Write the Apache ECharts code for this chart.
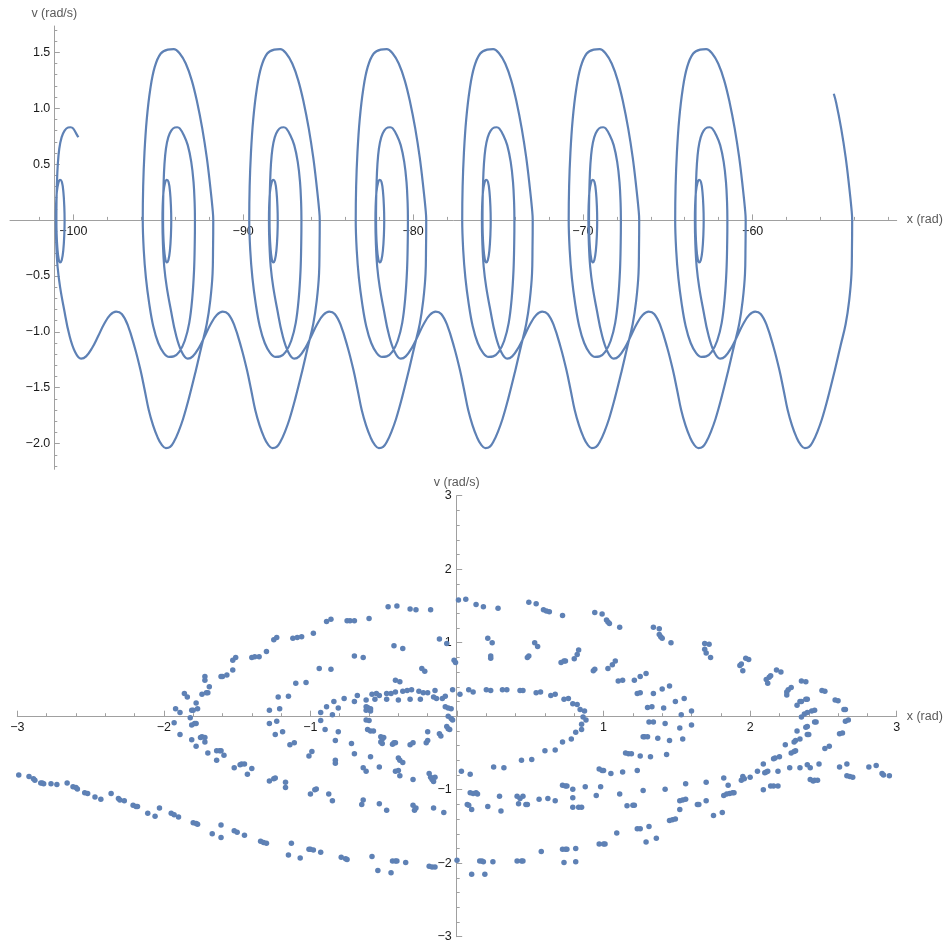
<!DOCTYPE html>
<html><head><meta charset="utf-8">
<script src="https://cdn.jsdelivr.net/npm/echarts@6/dist/echarts.min.js"></script>
<style>html,body{margin:0;padding:0;background:#fff}#c{width:947px;height:949px}</style>
</head><body><div id="c"></div>
<script>
// ---------- top chart: trajectory (x unwrapped) ----------
// centres of the small inner loop of each well (rad)
const cellCentersX = [-56.88, -63.15, -69.42, -75.69, -81.96, -88.23, -94.50, -100.78];
// shape of one well, [dx from centre, v]
const entryPath = [[3.297,-0.82],[2.944,-0.85],[2.591,-0.93],[2.237,-1.04],[1.884,-1.145],[1.531,-1.22],[1.236,-1.24],[0.883,-1.18],[0.530,-1.02],[0.236,-0.80],[0,-0.60],[-0.147,-0.42],[-0.224,-0.22],[-0.253,0]];
const innerLoop = [[-0.241,0.12],[-0.194,0.25],[-0.106,0.33],[0,0.36],[0.106,0.34],[0.194,0.25],[0.247,0.12],[0.265,0],[0.247,-0.13],[0.188,-0.27],[0.094,-0.36],[0,-0.38],[-0.094,-0.34],[-0.165,-0.24],[-0.206,-0.12],[-0.218,0]];
const middleUp = [[-0.212,0.15],[-0.188,0.32],[-0.135,0.50],[-0.047,0.64],[0.088,0.74],[0.265,0.80],[0.471,0.828],[0.618,0.83],[0.765,0.82],[1.001,0.76],[1.236,0.67],[1.442,0.52],[1.578,0.34],[1.643,0.15],[1.660,0]];
const middleDown = [[1.649,-0.2],[1.607,-0.45],[1.501,-0.7],[1.325,-0.92],[1.060,-1.08],[0.736,-1.18],[0.412,-1.22],[0.141,-1.225],[-0.177,-1.19],[-0.500,-1.10],[-0.795,-0.95],[-1.030,-0.75],[-1.225,-0.52],[-1.354,-0.27],[-1.413,0]];
const outerUp = [[-1.389,0.3],[-1.313,0.6],[-1.178,0.9],[-0.971,1.17],[-0.707,1.37],[-0.353,1.49],[0.059,1.525],[0.412,1.53],[0.765,1.49],[1.119,1.40],[1.472,1.25],[1.796,1.05],[2.090,0.82],[2.355,0.56],[2.561,0.3],[2.697,0.1],[2.738,0]];
const outerDown = [[2.726,-0.25],[2.697,-0.48],[2.561,-0.72],[2.355,-0.93],[2.061,-1.12],[1.707,-1.35],[1.295,-1.60],[0.960,-1.78],[0.700,-1.89],[0.450,-1.975],[0.200,-2.03],[-0.050,-2.04],[-0.300,-2.01],[-0.550,-1.94],[-0.800,-1.84],[-1.060,-1.70],[-1.300,-1.52],[-1.550,-1.34],[-1.884,-1.14],[-2.296,-0.94],[-2.649,-0.84]];
const trajStart = [1.655, 1.13];   // first point, relative to the first well
const trajEnd = [1.072, 0.74];     // last point, relative to the last well

const topXMajor = [-100,-90,-80,-70,-60];
const topXMinor = [-102,-98,-96,-94,-92,-88,-86,-84,-82,-78,-76,-74,-72,-68,-66,-64,-62,-58,-56,-54,-52];
const topYMajor = [-2,-1.5,-1,-0.5,0,0.5,1,1.5];
const topYLabels = [-2,-1.5,-1,-0.5,0.5,1,1.5];
const topYMinor = [-2.2,-2.1,-1.9,-1.8,-1.7,-1.6,-1.4,-1.3,-1.2,-1.1,-0.9,-0.8,-0.7,-0.6,-0.4,-0.3,-0.2,-0.1,0.1,0.2,0.3,0.4,0.6,0.7,0.8,0.9,1.1,1.2,1.3,1.4,1.6,1.7];

// ---------- bottom chart: sampled points, x wrapped to [-pi, pi] ----------
const dotsUpperLeft = [[-1.93,-0.09],[-1.92,0.10],[-1.89,0.05],[-1.86,0.31],[-1.84,0.26],[-1.81,0.08],[-1.80,0.08],[-1.77,0.10],[-1.78,0.18],[-1.82,-0.02],
[-1.81,-0.12],[-1.79,-0.10],[-1.78,-0.10],
[-1.74,0.30],[-1.71,0.32],[-1.70,0.32],[-1.69,0.40],[-1.72,0.49],[-1.72,0.54],[-1.61,0.54],[-1.60,0.54],[-1.57,0.56],[-1.53,0.63],[-1.53,0.76],[-1.51,0.80],[-1.40,0.80],[-1.38,0.81],[-1.35,0.81],[-1.30,0.88],[-1.25,1.04],[-1.23,1.07],[-1.12,1.06],[-1.09,1.07],[-1.06,1.08],[-0.98,1.13],[-0.89,1.29],[-0.86,1.32],[-0.75,1.30],[-0.73,1.30],[-0.70,1.30],[-0.60,1.33],[-0.47,1.49],[-0.41,1.50],[-0.32,1.46],[-0.28,1.45],[-0.18,1.45],[0.01,1.58],[0.06,1.59],[0.13,1.52],
[-0.12,1.05],[-0.07,0.99],[-0.43,0.96],[-0.37,0.92],[-0.70,0.82],[-0.64,0.80],[-0.94,0.65],[-0.86,0.64],[-0.24,0.65],[-0.22,0.61],[-0.02,0.76],[-0.01,0.73],[-0.42,0.49],[-0.39,0.47],[-1.10,0.45],[-1.03,0.46],[-1.22,0.26],[-1.15,0.27],[-1.28,0.08],[-1.21,0.10],[-1.28,-0.10],[-1.23,-0.07],
[-0.89,0.13],[-0.84,0.20],[-0.81,0.11],[-0.77,0.24],[-0.70,0.20],[-0.68,0.28],[-0.62,0.22],[-0.58,0.30],[-0.55,0.31],[-0.53,0.28],[-0.56,0.23],[-0.48,0.23],[-0.48,0.31],[-0.45,0.31],[-0.42,0.33],[-0.40,0.22],[-0.37,0.34],[-0.34,0.35],[-0.31,0.36],[-0.32,0.23],[-0.26,0.34],[-0.25,0.23],[-0.23,0.32],[-0.20,0.32],[-0.15,0.35],[-0.16,0.26],[-0.14,0.24],[-0.10,0.24],[-0.08,0.27],[-0.03,0.36],[0.02,0.30],[0.08,0.36],[0.11,0.33],
[-0.62,0.13],[-0.61,0.12],[-0.59,0.10],[-0.62,0.08],[-0.59,0.07],[-0.62,-0.05],[-0.60,-0.06],[-0.61,-0.18],[-0.59,-0.20],[-0.57,-0.20],[-0.93,0.05],[-0.85,0.02],[-0.93,-0.06],[-0.90,-0.18],[-0.81,-0.21],[-0.08,0.13],[-0.06,0.11],[-0.04,0.10],[-0.06,0.0],[-0.04,-0.03],[-0.03,-0.05],[-0.07,-0.14],[-0.06,-0.17],[-0.05,-0.18]];
const dotsUpperRight = [[0.18,1.49],[0.28,1.47],[0.49,1.55],[0.54,1.53],[0.59,1.45],[0.61,1.43],[0.63,1.42],[0.72,1.37],[0.94,1.41],[0.99,1.39],[1.02,1.31],[1.03,1.28],[1.04,1.26],[1.11,1.21],[1.34,1.21],[1.38,1.19],[1.38,1.11],[1.39,1.08],[1.40,1.06],[1.46,1.00],[1.69,0.99],[1.72,0.98],[1.69,0.91],[1.70,0.86],[1.73,0.80],[1.93,0.69],[1.94,0.71],[1.97,0.79],[1.99,0.77],[1.95,0.62],[2.11,0.50],[2.13,0.53],[2.14,0.55],[2.12,0.45],[2.18,0.63],[2.21,0.60],[2.25,0.33],[2.26,0.36],[2.28,0.39],[2.25,0.29],[2.35,0.48],[2.38,0.47],[2.32,0.15],[2.34,0.20],[2.35,0.20],[2.38,0.23],[2.39,0.23],[2.49,0.35],[2.51,0.34],[2.58,0.22],[2.60,0.21],[2.35,-0.01],[2.37,0.03],[2.39,0.05],[2.42,0.07],[2.44,0.08],[2.64,0.09],[2.65,0.09],[2.65,-0.07],[2.67,-0.05],[2.44,-0.08],[2.45,-0.08],[2.38,-0.15],[2.39,-0.14],[2.32,-0.20],[2.61,-0.24],[2.63,-0.23],
[0.21,1.06],[0.24,1.00],[0.23,0.82],[0.23,0.79],[0.48,0.80],[0.49,0.82],[0.53,1.00],[0.55,0.95],[0.71,0.73],[0.73,0.75],[0.74,0.75],[0.80,0.78],[0.82,0.84],[0.83,0.90],[0.93,0.62],[0.94,0.64],[1.03,0.65],[1.06,0.70],[1.08,0.75],[1.10,0.48],[1.13,0.49],[1.21,0.49],[1.25,0.54],[1.29,0.58],[1.23,0.31],[1.25,0.32],[1.34,0.31],[1.40,0.37],[1.45,0.41],[1.30,0.12],[1.33,0.13],[1.41,0.11],[1.49,0.20],[1.55,0.24],[1.53,0.02],[1.60,0.07],[1.31,-0.08],[1.34,-0.08],[1.42,-0.10],[1.52,-0.16],[1.60,-0.12],
[0.20,0.36],[0.23,0.35],[0.31,0.36],[0.34,0.36],[0.43,0.35],[0.45,0.35],[0.54,0.32],[0.57,0.33],[0.64,0.28],[0.67,0.30],[0.73,0.23],[0.76,0.24],[0.79,0.17],[0.82,0.16],[0.84,0.09],[0.87,0.07],[0.86,-0.01],[0.88,-0.05],[0.85,-0.11],[0.85,-0.18]];
const dotsLowerLeft = [[-1.89,-0.25],[-1.81,-0.32],[-1.78,-0.41],[-1.75,-0.29],[-1.74,-0.28],[-1.72,-0.29],[-1.72,-0.35],[-1.70,-0.50],[-1.64,-0.47],[-1.62,-0.47],[-1.61,-0.47],[-1.64,-0.60],[-1.59,-0.53],[-1.52,-0.70],[-1.48,-0.66],[-1.47,-0.65],[-1.45,-0.65],[-1.43,-0.79],[-1.40,-0.71],[-1.28,-0.88],[-1.25,-0.85],[-1.24,-0.84],[-1.17,-0.97],[-1.17,-0.90],[-1.24,-0.25],[-1.19,-0.21],[-1.14,-0.39],[-1.11,-0.36],[-1.01,-0.54],[-0.99,-0.48],[-1.00,-1.06],[-0.97,-1.00],[-0.96,-0.99],[-0.875,-1.06],[-0.85,-1.15],[-0.83,-0.33],[-0.83,-0.64],[-0.83,-0.60],[-0.72,-0.37],[-0.70,-0.51],[-0.65,-1.20],[-0.64,-1.14],[-0.64,-0.70],[-0.62,-0.75],[-0.59,-0.55],[-0.53,-1.19],[-0.53,-0.69],[-0.52,-0.28],[-0.51,-0.31],[-0.50,-0.29],[-0.52,-0.35],[-0.51,-0.37],[-0.48,-1.28],[-0.44,-0.38],[-0.43,-0.36],[-0.42,-0.36],[-0.42,-0.75],[-0.40,-0.74],[-0.39,-0.81],[-0.40,-0.57],[-0.39,-0.60],[-0.37,-0.63],[-0.32,-0.39],[-0.30,-0.36],[-0.30,-0.86],[-0.30,-1.21],[-0.28,-1.25],[-0.29,-1.28],[-0.21,-0.36],[-0.20,-0.33],[-0.20,-0.21],[-0.19,-0.78],[-0.18,-0.83],[-0.17,-0.86],[-0.16,-0.89],[-0.15,-0.83],[-0.16,-1.25],[-0.12,-0.24],[-0.11,-0.27],[-0.09,-1.31],[0.03,-0.75],[0.09,-0.79],
[-2.99,-0.80],[-2.92,-0.82],[-2.89,-0.85],[-2.88,-0.87],[-2.84,-0.91],[-2.83,-0.91],[-2.82,-0.92],[-2.77,-0.92],[-2.73,-0.93],[-2.66,-0.91],[-2.62,-0.96],[-2.60,-0.97],[-2.59,-0.99],[-2.54,-1.04],[-2.52,-1.05],[-2.47,-1.10],[-2.43,-1.13],[-2.36,-1.05],[-2.31,-1.12],[-2.30,-1.14],[-2.27,-1.15],[-2.21,-1.21],[-2.19,-1.23],[-2.18,-1.23],[-2.11,-1.32],[-2.06,-1.36],[-2.03,-1.25],[-1.95,-1.32],[-1.93,-1.34],[-1.90,-1.37],[-1.80,-1.45],[-1.78,-1.46],[-1.77,-1.47],[-1.67,-1.60],[-1.61,-1.48],[-1.61,-1.65],[-1.52,-1.56],[-1.50,-1.58],[-1.45,-1.62],[-1.34,-1.70],[-1.32,-1.72],[-1.30,-1.73],[-1.15,-1.89],[-1.13,-1.73],[-1.07,-1.93],[-1.01,-1.81],[-1.00,-1.81],[-0.98,-1.82],[-0.93,-1.85],[-0.79,-1.92],[-0.76,-1.94],[-0.75,-1.95],[-0.58,-1.91],[-0.54,-2.10],[-0.45,-2.13],[-0.44,-1.97],[-0.42,-1.97],[-0.41,-1.97],[-0.35,-1.99],[-0.19,-2.04],[-0.17,-2.05],[-0.15,-2.05],[0.0,-1.96],[0.10,-2.15]];
const dotsLowerRight = [[0.19,-2.15],[0.155,-1.97],[0.17,-1.97],[0.18,-1.98],[0.245,-1.98],[0.41,-1.97],[0.44,-1.97],[0.45,-1.97],[0.575,-1.84],[0.72,-1.81],[0.74,-1.81],[0.75,-1.81],[0.81,-1.80],[0.73,-1.99],[0.81,-1.98],[0.97,-1.74],[1.00,-1.74],[1.01,-1.74],[1.09,-1.59],[1.23,-1.53],[1.25,-1.53],[1.29,-1.71],[1.31,-1.50],[1.36,-1.66],[1.45,-1.42],[1.47,-1.41],[1.49,-1.40],[1.52,-1.27],[1.52,-1.15],[1.54,-1.14],[1.56,-1.13],[1.56,-0.92],[1.64,-1.20],[1.65,-1.20],[1.70,-1.15],[1.70,-0.90],[1.75,-1.35],[1.81,-1.31],[1.82,-0.84],[1.85,-0.94],[1.82,-1.08],[1.84,-1.06],[1.86,-1.05],[1.88,-1.04],[1.89,-1.04],[1.94,-0.87],[1.95,-0.82],[1.96,-0.85],[2.00,-0.83],[2.05,-0.75],[2.09,-0.65],[2.09,-1.00],[2.10,-0.77],[2.11,-0.76],[2.12,-0.75],[2.14,-0.95],[2.16,-0.95],[2.19,-0.95],[2.19,-0.75],[2.16,-0.58],[2.17,-0.57],[2.20,-0.55],[2.24,-0.39],[2.27,-0.70],[2.28,-0.50],[2.30,-0.48],[2.31,-0.47],[2.30,-0.35],[2.31,-0.33],[2.34,-0.31],[2.34,-0.70],[2.39,-0.66],[2.41,-0.70],[2.39,-0.25],[2.40,-0.25],[2.41,-0.86],[2.43,-0.88],[2.44,-0.87],[2.46,-0.87],[2.47,-0.65],[2.51,-0.44],[2.54,-0.41],[2.61,-0.69],[2.66,-0.65],[2.66,-0.81],[2.68,-0.82],[2.70,-0.83],[2.81,-0.69],[2.86,-0.67],[2.90,-0.78],[2.91,-0.80],[2.95,-0.81],
[0.09,-1.04],[0.11,-1.05],[0.13,-1.04],[0.14,-1.06],[0.07,-1.20],[0.08,-1.21],[0.10,-1.27],[0.21,-1.23],[0.25,-0.69],[0.32,-0.70],[0.29,-1.09],[0.30,-1.29],[0.41,-1.09],[0.43,-1.12],[0.45,-1.09],[0.42,-1.19],[0.47,-1.20],[0.48,-1.20],[0.44,-0.60],[0.51,-0.59],[0.56,-1.13],[0.62,-1.12],[0.67,-1.15],[0.60,-0.47],[0.67,-0.46],[0.72,-0.35],[0.78,-0.31],[0.81,-0.22],[0.72,-0.94],[0.74,-0.95],[0.75,-0.95],[0.79,-0.995],[0.79,-1.11],[0.79,-1.24],[0.83,-1.24],[0.85,-1.24],[0.875,-0.96],[0.95,-1.08],[0.98,-0.96],[0.97,-0.72],[0.99,-0.74],[1.00,-0.74],[1.05,-0.78],[1.13,-0.76],[1.11,-1.06],[1.16,-1.22],[1.20,-1.21],[1.21,-1.21],[1.23,-0.74],[1.27,-1.01],[1.15,-0.50],[1.17,-0.51],[1.19,-0.51],[1.25,-0.54],[1.32,-0.55],[1.43,-0.52],[1.42,-0.995],[1.27,-0.28],[1.28,-0.28],[1.30,-0.28],[1.37,-0.30],[1.45,-0.33],[1.54,-0.31]];

// ---------- build the trajectory table from the traced pieces ----------
function place(c, pts) { return pts.map(p => [c + p[0], p[1]]); }
const traj = [];
{
  const n = cellCentersX.length;
  const c0 = cellCentersX[0];
  traj.push(...place(c0, [trajStart]), ...place(c0, outerUp.slice(11)), ...place(c0, outerDown));
  for (let i = 1; i < n - 1; i++) {
    const c = cellCentersX[i];
    traj.push(...place(c, entryPath), ...place(c, innerLoop), ...place(c, middleUp),
              ...place(c, middleDown), ...place(c, outerUp), ...place(c, outerDown));
  }
  const cl = cellCentersX[n - 1];
  traj.push(...place(cl, entryPath), ...place(cl, innerLoop), ...place(cl, middleUp.slice(0, 10)), ...place(cl, [trajEnd]));
}

const FONT = '"Liberation Sans", Arial, Helvetica, sans-serif';
const AX = '#a0a0a0';
const LBL = '#1a1a1a';
const NAMEC = '#5a5a5a';
const BLUE = '#5E81B5';
const minus = v => String(v).replace('-', '\u2212');
const lblStyle = {color: LBL, fontSize: 12.5, fontFamily: FONT};
const nameStyle = {color: NAMEC, fontSize: 12.5, fontFamily: FONT};

// pixel layout of the two panels
const G1 = {left: 10, right: 50.3, top: 26, bottom: 479.7};
const G2 = {left: 17.3, right: 50.3, top: 495.7, bottom: 12.3};
const topXAxisShift = -249.4;   // x axis drawn on v = 0
const topYAxisShift = -44.3;    // y axis drawn at x = -101.14
const botXAxisShift = -220.5;   // x axis on v = 0
const botYAxisShift = -439.4;   // y axis on x = 0

const chart = echarts.init(document.getElementById('c'), null, {renderer: 'canvas'});
chart.setOption({
  animation: false,
  backgroundColor: '#fff',
  grid: [G1, G2],
  xAxis: [
    {gridIndex: 0, type: 'value', min: -103.73, max: -51.52, position: 'bottom', offset: topXAxisShift,
     axisLine: {onZero: false, lineStyle: {color: AX, width: 1}},
     axisTick: {inside: true, length: 5.5, customValues: topXMajor, lineStyle: {color: AX}},
     axisLabel: Object.assign({customValues: topXMajor, formatter: v => minus(v), margin: 5}, lblStyle),
     splitLine: {show: false},
     name: 'x (rad)', nameLocation: 'end', nameGap: 10, nameTextStyle: nameStyle},
    {gridIndex: 0, type: 'value', min: -103.73, max: -51.52, position: 'bottom', offset: topXAxisShift,
     axisLine: {show: false, onZero: false},
     axisTick: {inside: true, length: 3, customValues: topXMinor, lineStyle: {color: AX}},
     axisLabel: {show: false}, splitLine: {show: false}},
    {gridIndex: 1, type: 'value', min: -3, max: 3, interval: 1, position: 'bottom', offset: botXAxisShift,
     axisLine: {onZero: false, lineStyle: {color: AX, width: 1}},
     axisTick: {inside: true, length: 5.5, lineStyle: {color: AX}},
     minorTick: {show: true, splitNumber: 5, length: 3, lineStyle: {color: AX}},
     axisLabel: Object.assign({formatter: v => v === 0 ? '' : minus(v), margin: 5, showMinLabel: true, showMaxLabel: true}, lblStyle),
     splitLine: {show: false}, minorSplitLine: {show: false},
     name: 'x (rad)', nameLocation: 'end', nameGap: 10, nameTextStyle: nameStyle}
  ],
  yAxis: [
    {gridIndex: 0, type: 'value', min: -2.23, max: 1.736, position: 'left', offset: topYAxisShift,
     axisLine: {onZero: false, lineStyle: {color: AX, width: 1}},
     axisTick: {inside: true, length: 5.5, customValues: topYMajor, lineStyle: {color: AX}},
     axisLabel: Object.assign({customValues: topYLabels, formatter: v => minus(v.toFixed(1)), margin: 4}, lblStyle),
     splitLine: {show: false},
     name: 'v (rad/s)', nameLocation: 'end', nameGap: 6, nameTextStyle: nameStyle},
    {gridIndex: 0, type: 'value', min: -2.23, max: 1.736, position: 'left', offset: topYAxisShift,
     axisLine: {show: false, onZero: false},
     axisTick: {inside: true, length: 3, customValues: topYMinor, lineStyle: {color: AX}},
     axisLabel: {show: false}, splitLine: {show: false}},
    {gridIndex: 1, type: 'value', min: -3, max: 3, interval: 1, position: 'left', offset: botYAxisShift,
     axisLine: {onZero: false, lineStyle: {color: AX, width: 1}},
     axisTick: {inside: true, length: 5.5, lineStyle: {color: AX}},
     minorTick: {show: true, splitNumber: 5, length: 3, lineStyle: {color: AX}},
     axisLabel: Object.assign({formatter: v => v === 0 ? '' : minus(v), margin: 5, showMinLabel: true, showMaxLabel: true}, lblStyle),
     splitLine: {show: false}, minorSplitLine: {show: false},
     name: 'v (rad/s)', nameLocation: 'end', nameGap: 6, nameTextStyle: nameStyle}
  ],
  series: [
    {type: 'line', xAxisIndex: 0, yAxisIndex: 0, data: traj, showSymbol: false, smooth: 0.4,
     lineStyle: {color: BLUE, width: 2.2}, itemStyle: {color: BLUE}, silent: true},
    {type: 'scatter', xAxisIndex: 2, yAxisIndex: 2,
     data: [].concat(dotsUpperLeft, dotsUpperRight, dotsLowerLeft, dotsLowerRight),
     symbolSize: 5.5, itemStyle: {color: BLUE, opacity: 1}, silent: true}
  ]
});
</script></body></html>
